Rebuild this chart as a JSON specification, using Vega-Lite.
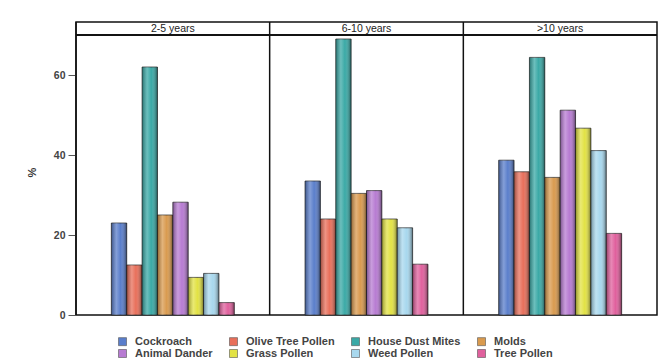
{
  "$schema": "https://vega.github.io/schema/vega-lite/v6.json",
  "width": 581,
  "height": 293,
  "autosize": "none",
  "padding": {"left": 76, "top": 22, "right": 8, "bottom": 48},
  "background": "white",
  "config": {
    "view": {"stroke": "#111", "strokeWidth": 1.5},
    "font": "Liberation Sans"
  },
  "datasets": {
    "sens": [
      {"period": "2-5 years", "allergen": "Cockroach", "pct": 23.0},
      {"period": "2-5 years", "allergen": "Olive Tree Pollen", "pct": 12.5},
      {"period": "2-5 years", "allergen": "House Dust Mites", "pct": 62.0},
      {"period": "2-5 years", "allergen": "Molds", "pct": 25.0},
      {"period": "2-5 years", "allergen": "Animal Dander", "pct": 28.2},
      {"period": "2-5 years", "allergen": "Grass Pollen", "pct": 9.4},
      {"period": "2-5 years", "allergen": "Weed Pollen", "pct": 10.4},
      {"period": "2-5 years", "allergen": "Tree Pollen", "pct": 3.1},
      {"period": "6-10 years", "allergen": "Cockroach", "pct": 33.5},
      {"period": "6-10 years", "allergen": "Olive Tree Pollen", "pct": 24.0},
      {"period": "6-10 years", "allergen": "House Dust Mites", "pct": 69.0},
      {"period": "6-10 years", "allergen": "Molds", "pct": 30.4},
      {"period": "6-10 years", "allergen": "Animal Dander", "pct": 31.1},
      {"period": "6-10 years", "allergen": "Grass Pollen", "pct": 24.0},
      {"period": "6-10 years", "allergen": "Weed Pollen", "pct": 21.8},
      {"period": "6-10 years", "allergen": "Tree Pollen", "pct": 12.7},
      {"period": ">10 years", "allergen": "Cockroach", "pct": 38.7},
      {"period": ">10 years", "allergen": "Olive Tree Pollen", "pct": 35.8},
      {"period": ">10 years", "allergen": "House Dust Mites", "pct": 64.4},
      {"period": ">10 years", "allergen": "Molds", "pct": 34.4},
      {"period": ">10 years", "allergen": "Animal Dander", "pct": 51.2},
      {"period": ">10 years", "allergen": "Grass Pollen", "pct": 46.7},
      {"period": ">10 years", "allergen": "Weed Pollen", "pct": 41.1},
      {"period": ">10 years", "allergen": "Tree Pollen", "pct": 20.4}
    ],
    "periods": [
      {"period": "2-5 years"},
      {"period": "6-10 years"},
      {"period": ">10 years"}
    ]
  },
  "layer": [
    {
      "data": {"name": "sens"},
      "mark": {"type": "bar", "stroke": "#222", "strokeWidth": 0.7},
      "encoding": {
        "x": {
          "field": "period", "type": "nominal",
          "sort": ["2-5 years", "6-10 years", ">10 years"],
          "scale": {"paddingInner": 0, "paddingOuter": 0},
          "axis": null
        },
        "xOffset": {
          "field": "allergen", "type": "nominal",
          "scale": {
            "domain": ["_l2", "_l1", "Cockroach", "Olive Tree Pollen", "House Dust Mites", "Molds", "Animal Dander", "Grass Pollen", "Weed Pollen", "Tree Pollen", "_r1", "_r2"],
            "paddingInner": 0, "paddingOuter": 0.3
          }
        },
        "y": {
          "field": "pct", "type": "quantitative",
          "scale": {"domain": [0, 73.25], "nice": false},
          "axis": {
            "values": [0, 20, 40, 60],
            "title": "%",
            "titleFont": "Liberation Sans",
            "titleFontSize": 11,
            "titleFontWeight": "bold",
            "titleColor": "#333",
            "titlePadding": 16,
            "titleY": 150,
            "grid": false,
            "domain": false,
            "tickSize": 8,
            "tickColor": "#555",
            "labelFont": "Liberation Sans",
            "labelFontSize": 10.5,
            "labelFontWeight": "bold",
            "labelColor": "#444",
            "labelPadding": 3
          }
        },
        "color": {
          "field": "allergen", "type": "nominal",
          "scale": {
            "domain": ["Cockroach", "Olive Tree Pollen", "House Dust Mites", "Molds", "Animal Dander", "Grass Pollen", "Weed Pollen", "Tree Pollen"],
            "range": ["#5a7ecb", "#e86f5a", "#3aa9a6", "#d99a4e", "#b77bd2", "#e2e244", "#a8d8ee", "#e0609d"]
          },
          "legend": {
            "orient": "none",
            "legendX": 41,
            "legendY": 314,
            "direction": "horizontal",
            "columns": 4,
            "title": null,
            "symbolType": "square",
            "symbolSize": 64,
            "symbolStrokeColor": "#555",
            "symbolStrokeWidth": 0.6,
            "labelFont": "Liberation Sans",
            "labelFontSize": 11,
            "labelFontWeight": "bold",
            "labelColor": "#444",
            "labelOffset": 7,
            "columnPadding": 15,
            "rowPadding": 0
          }
        }
      }
    },
    {
      "data": {"name": "sens"},
      "mark": {
        "type": "bar",
        "color": {
          "gradient": "linear", "x1": 0, "x2": 1, "y1": 0, "y2": 0,
          "stops": [
            {"offset": 0, "color": "rgba(0,0,0,0.32)"},
            {"offset": 0.33, "color": "rgba(255,255,255,0.25)"},
            {"offset": 0.6, "color": "rgba(255,255,255,0.0)"},
            {"offset": 1, "color": "rgba(0,0,0,0.48)"}
          ]
        }
      },
      "encoding": {
        "x": {"field": "period", "type": "nominal", "sort": ["2-5 years", "6-10 years", ">10 years"]},
        "xOffset": {"field": "allergen", "type": "nominal"},
        "y": {"field": "pct", "type": "quantitative"}
      }
    },
    {
      "data": {"name": "periods"},
      "mark": {"type": "rule", "color": "#111", "strokeWidth": 1.5},
      "encoding": {
        "x": {"field": "period", "type": "nominal", "sort": ["2-5 years", "6-10 years", ">10 years"], "bandPosition": 0}
      }
    },
    {
      "data": {"name": "periods"},
      "mark": {"type": "rule", "color": "#111", "strokeWidth": 1.5},
      "encoding": {
        "y": {"datum": 70}
      }
    },
    {
      "data": {"name": "periods"},
      "mark": {"type": "text", "font": "Liberation Sans", "fontSize": 10.5, "color": "#222", "baseline": "middle"},
      "encoding": {
        "x": {"field": "period", "type": "nominal", "sort": ["2-5 years", "6-10 years", ">10 years"], "bandPosition": 0.5},
        "y": {"datum": 71.6},
        "text": {"field": "period"}
      }
    }
  ]
}
